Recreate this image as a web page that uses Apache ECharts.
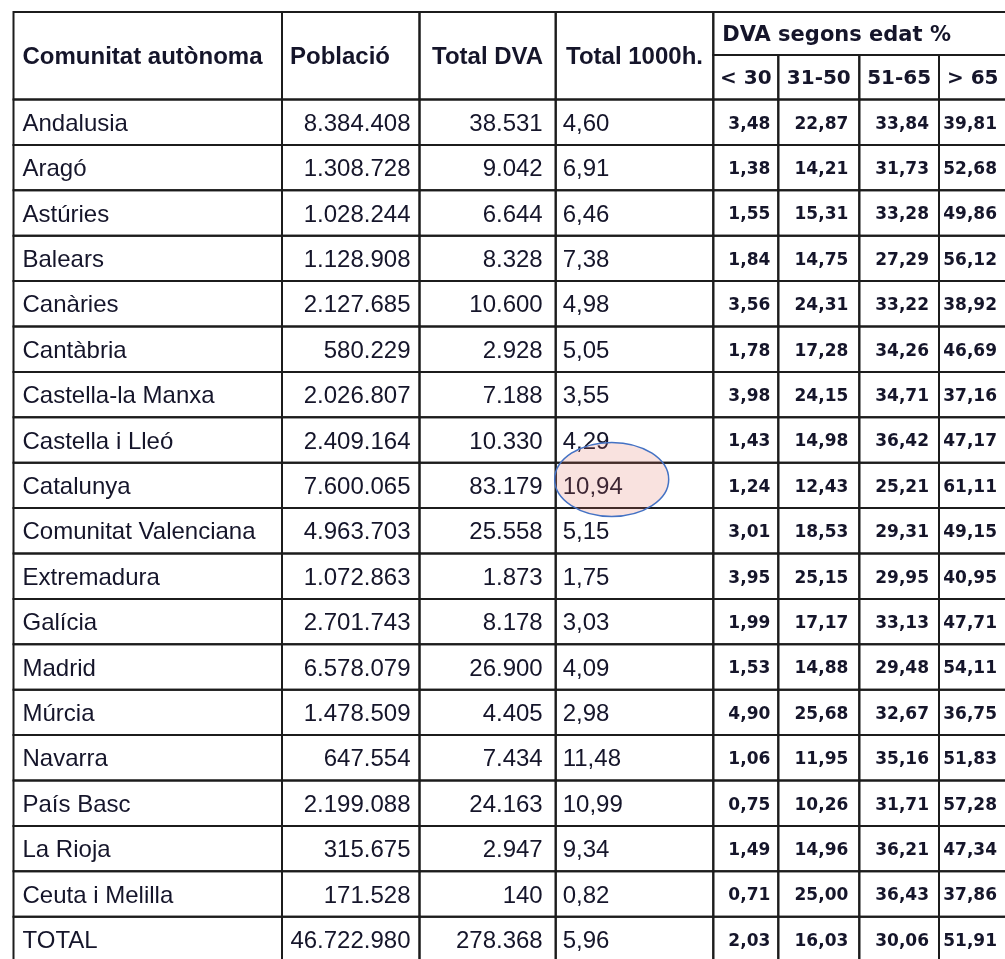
<!DOCTYPE html>
<html>
<head>
<meta charset="utf-8">
<script src="https://cdn.jsdelivr.net/npm/echarts@6/dist/echarts.min.js"></script>
<style>
  html, body { margin: 0; padding: 0; background: #ffffff; }
  #chart { width: 1005px; height: 959px; }
</style>
</head>
<body>
<div id="chart"></div>
<script>
const regions = [
  "Andalusia", "Aragó", "Astúries", "Balears", "Canàries", "Cantàbria",
  "Castella-la Manxa", "Castella i Lleó", "Catalunya", "Comunitat Valenciana",
  "Extremadura", "Galícia", "Madrid", "Múrcia", "Navarra", "País Basc",
  "La Rioja", "Ceuta i Melilla", "TOTAL",
];
const poblacio = [
  8384408, 1308728, 1028244, 1128908, 2127685, 580229, 2026807, 2409164,
  7600065, 4963703, 1072863, 2701743, 6578079, 1478509, 647554, 2199088,
  315675, 171528, 46722980,
];
const totalDva = [
  38531, 9042, 6644, 8328, 10600, 2928, 7188, 10330, 83179, 25558, 1873,
  8178, 26900, 4405, 7434, 24163, 2947, 140, 278368,
];
const per1000 = [
  4.60, 6.91, 6.46, 7.38, 4.98, 5.05, 3.55, 4.29, 10.94, 5.15, 1.75, 3.03,
  4.09, 2.98, 11.48, 10.99, 9.34, 0.82, 5.96,
];
const ageUnder30 = [
  3.48, 1.38, 1.55, 1.84, 3.56, 1.78, 3.98, 1.43, 1.24, 3.01, 3.95, 1.99,
  1.53, 4.90, 1.06, 0.75, 1.49, 0.71, 2.03,
];
const age31to50 = [
  22.87, 14.21, 15.31, 14.75, 24.31, 17.28, 24.15, 14.98, 12.43, 18.53,
  25.15, 17.17, 14.88, 25.68, 11.95, 10.26, 14.96, 25.00, 16.03,
];
const age51to65 = [
  33.84, 31.73, 33.28, 27.29, 33.22, 34.26, 34.71, 36.42, 25.21, 29.31,
  29.95, 33.13, 29.48, 32.67, 35.16, 31.71, 36.21, 36.43, 30.06,
];
const ageOver65 = [
  39.81, 52.68, 49.86, 56.12, 38.92, 46.69, 37.16, 47.17, 61.11, 49.15,
  40.95, 47.71, 54.11, 36.75, 51.83, 57.28, 47.34, 37.86, 51.91,
];
const mainHeaders = ["Comunitat autònoma", "Població", "Total DVA", "Total 1000h."];
const groupHeader = "DVA segons edat %";
const ageHeaders = ["< 30", "31-50", "51-65", "> 65"];
const highlighted = { region: "Catalunya", column: 3 };

// layout, in axis units (1 unit = 1 px); the last column ends just past the page edge
const gridLeft = 13.5;
const gridTop = 12;
const gridWidth = 1005 - gridLeft;
const gridHeight = 959 - gridTop;
const colEdges = [0, 268.5, 406, 542.2, 699.8, 764.8, 845.8, 925.5, 993];
const headerEdges = [0, 43, 87.5];
const rowHeight = 45.4;

const fmtInt = (n) => String(n).replace(/\B(?=(\d{3})+(?!\d))/g, ".");
const fmtDec = (n) => n.toFixed(2).replace(".", ",");

const textColor = "#15152a";
const fonts = {
  head: { fontFamily: '"Liberation Sans", Arial, sans-serif', fontWeight: "bold", fontSize: 24 },
  group: { fontFamily: '"DejaVu Sans", sans-serif', fontWeight: "bold", fontSize: 21 },
  age: { fontFamily: '"DejaVu Sans", sans-serif', fontWeight: "bold", fontSize: 20 },
  body: { fontFamily: '"Liberation Sans", Arial, sans-serif', fontWeight: "normal", fontSize: 24 },
  num: { fontFamily: '"DejaVu Sans", sans-serif', fontWeight: "bold", fontSize: 17 },
};
const headAlign = [["left", 9], ["left", 8], ["center", 0], ["center", 0]];
const bodyAlign = [
  ["left", 9], ["right", 9], ["right", 13], ["left", 7],
  ["right", 8], ["right", 11], ["right", 10], ["right", 9.5],
];

const cells = [];
mainHeaders.forEach((label, c) => {
  cells.push({
    value: [colEdges[c], headerEdges[0], colEdges[c + 1], headerEdges[2]],
    text: label, font: fonts.head, align: headAlign[c][0], pad: headAlign[c][1],
  });
});
cells.push({
  value: [colEdges[4], headerEdges[0], colEdges[8], headerEdges[1]],
  text: groupHeader, font: fonts.group, align: "left", pad: 9,
});
ageHeaders.forEach((label, i) => {
  cells.push({
    value: [colEdges[4 + i], headerEdges[1], colEdges[5 + i], headerEdges[2]],
    text: label, font: fonts.age, align: "center", pad: 0,
  });
});
regions.forEach((name, r) => {
  const row = [
    name, fmtInt(poblacio[r]), fmtInt(totalDva[r]), fmtDec(per1000[r]),
    fmtDec(ageUnder30[r]), fmtDec(age31to50[r]), fmtDec(age51to65[r]), fmtDec(ageOver65[r]),
  ];
  const y0 = headerEdges[2] + r * rowHeight;
  row.forEach((text, c) => {
    cells.push({
      value: [colEdges[c], y0, colEdges[c + 1], y0 + rowHeight],
      text, font: c < 4 ? fonts.body : fonts.num,
      align: bodyAlign[c][0], pad: bodyAlign[c][1],
    });
  });
});

const hlRow = regions.indexOf(highlighted.region);
const hlCell = [
  colEdges[highlighted.column], headerEdges[2] + hlRow * rowHeight,
  colEdges[highlighted.column + 1], headerEdges[2] + (hlRow + 1) * rowHeight,
];

function renderCell(params, api) {
  const cell = cells[params.dataIndex];
  const p0 = api.coord([api.value(0), api.value(1)]);
  const p1 = api.coord([api.value(2), api.value(3)]);
  const w = p1[0] - p0[0];
  const h = p1[1] - p0[1];
  let tx = p0[0] + w / 2;
  if (cell.align === "left") tx = p0[0] + cell.pad;
  if (cell.align === "right") tx = p1[0] - cell.pad;
  return {
    type: "group",
    children: [
      {
        type: "rect",
        shape: { x: p0[0], y: p0[1], width: w, height: h },
        style: { fill: "none", stroke: "#1c1c1c", lineWidth: 2 },
      },
      {
        type: "text",
        style: Object.assign({
          x: tx, y: p0[1] + h / 2 + 2, text: cell.text,
          align: cell.align, verticalAlign: "middle", fill: textColor,
        }, cell.font),
      },
    ],
  };
}

function renderMark(params, api) {
  const p0 = api.coord([api.value(0), api.value(1)]);
  const p1 = api.coord([api.value(2), api.value(3)]);
  return {
    type: "ellipse",
    shape: { cx: p0[0] + 56, cy: (p0[1] + p1[1]) / 2 - 6, rx: 57, ry: 37 },
    style: { fill: "rgba(225,110,95,0.2)", stroke: "#4472c4", lineWidth: 1.5 },
  };
}

const chart = echarts.init(document.getElementById("chart"));
chart.setOption({
  animation: false,
  backgroundColor: "#ffffff",
  grid: { left: gridLeft, top: gridTop, width: gridWidth, height: gridHeight },
  xAxis: { type: "value", min: 0, max: gridWidth, show: false },
  yAxis: { type: "value", min: 0, max: gridHeight, inverse: true, show: false },
  series: [
    {
      type: "custom",
      renderItem: renderCell,
      data: cells.map((c) => c.value),
      clip: false,
      silent: true,
    },
    {
      type: "custom",
      renderItem: renderMark,
      data: [hlCell],
      clip: false,
      silent: true,
      z: 5,
    },
  ],
});
</script>
</body>
</html>
